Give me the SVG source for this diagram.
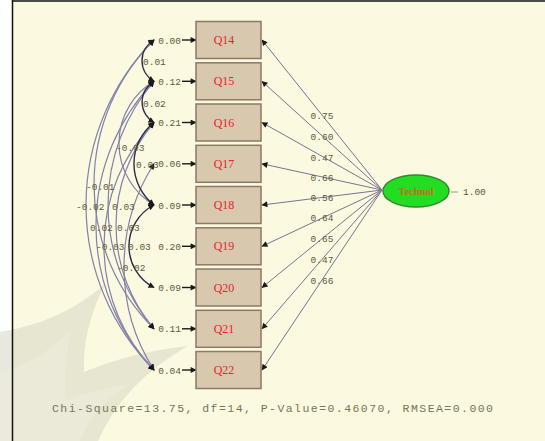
<svg xmlns="http://www.w3.org/2000/svg" width="545" height="441" viewBox="0 0 545 441">
  <defs>
    <marker id="arr" viewBox="0 0 10 10" refX="9" refY="5" markerWidth="7" markerHeight="6" markerUnits="userSpaceOnUse" orient="auto-start-reverse">
      <path d="M0,0 L10,5 L0,10 Z" fill="#1a1a1a"/>
    </marker>
    <style>
      .box { fill: #d7c8ae; stroke: #8a7a66; stroke-width: 1.5; }
      .blab { font-family: "Liberation Serif", serif; font-size: 12px; fill: #e8252a; text-anchor: middle; }
      .num { font-family: "Liberation Mono", monospace; font-size: 9.5px; fill: #5c5c40; }
      .path { stroke: #7a7492; stroke-width: 1; fill: none; marker-end: url(#arr); }
      .err { stroke: #1a1a1a; stroke-width: 1.4; fill: none; marker-end: url(#arr); }
      .cov { stroke: #8380aa; stroke-width: 1.2; fill: none; marker-start: url(#arr); marker-end: url(#arr); }
      .covd { stroke: #2e2c4a; stroke-width: 1.4; fill: none; marker-start: url(#arr); marker-end: url(#arr); }
    </style>
  </defs>

  <!-- page and frame -->
  <rect x="0" y="0" width="545" height="441" fill="#ffffff"/>
  <rect x="12" y="1" width="533" height="440" fill="#fbf9df"/>
  <!-- faint background emblem -->
  <path d="M0,332 Q62,322 105,284 Q82,330 84,372 Q132,352 188,346 Q124,382 98,441 L0,441 Z" fill="#d9d8c8" opacity="0.6"/>
  <path d="M0,372 Q40,362 70,330 Q64,370 66,400 Q100,388 130,384 Q92,408 80,441 L0,441 Z" fill="#ecebdc" opacity="0.7"/>
  <line x1="12.5" y1="0" x2="12.5" y2="441" stroke="#111" stroke-width="1.5"/>
  <line x1="12" y1="1" x2="545" y2="1" stroke="#111" stroke-width="1.5"/>

  <!-- connectors -->
  <g id="connectors">
    <!-- loadings from the latent variable -->
    <path class="path" d="M382,190 L262,40"/>
    <path class="path" d="M382,190 L262,81.3"/>
    <path class="path" d="M382,190 L262,122.5"/>
    <path class="path" d="M382,190 L262,163.8"/>
    <path class="path" d="M382,190 L262,205"/>
    <path class="path" d="M382,190 L262,246.3"/>
    <path class="path" d="M382,190 L262,287.5"/>
    <path class="path" d="M382,190 L262,328.8"/>
    <path class="path" d="M382,190 L262,370"/>
    <g class="num" text-anchor="middle">
      <text x="322" y="119">0.75</text>
      <text x="322" y="140">0.60</text>
      <text x="322" y="161">0.47</text>
      <text x="322" y="181">0.66</text>
      <text x="322" y="201">0.56</text>
      <text x="322" y="221">0.64</text>
      <text x="322" y="242">0.65</text>
      <text x="322" y="263">0.47</text>
      <text x="322" y="284">0.66</text>
    </g>

    <!-- error covariances -->
    <path class="cov" d="M154,40 A234.2,234.2 0 0 0 154,370"/>
    <path class="cov" d="M154,40 A203.8,203.8 0 0 0 154,328.8"/>
    <path class="cov" d="M154,81.3 A208.6,208.6 0 0 0 154,370"/>
    <path class="cov" d="M154,81.3 A189.5,189.5 0 0 0 154,328.8"/>
    <path class="cov" d="M154,122.5 A178.1,178.1 0 0 0 154,370"/>
    <path class="cov" d="M154,122.5 A159,159 0 0 0 154,328.8"/>
    <path class="cov" d="M154,163.8 A192.2,192.2 0 0 0 154,370"/>
    <path class="cov" d="M154,81.3 A72.1,72.1 0 0 0 154,205"/>
    <path class="covd" d="M154,40 A23.8,23.8 0 0 0 154,81.3"/>
    <path class="covd" d="M154,81.3 A23.8,23.8 0 0 0 154,122.5"/>
    <path class="covd" d="M154,122.5 A52.5,52.5 0 0 0 154,205"/>
    <path class="covd" d="M154,205 A46.5,46.5 0 0 0 154,287.5"/>
    <g class="num">
      <text x="143" y="65">0.01</text>
      <text x="143" y="107">0.02</text>
      <text x="116" y="151">-0.03</text>
      <text x="136" y="168">0.03</text>
      <text x="86" y="190">-0.01</text>
      <text x="76" y="210">-0.02</text>
      <text x="112" y="210">0.03</text>
      <text x="90" y="231">0.02</text>
      <text x="117" y="231">0.03</text>
      <text x="96" y="250">-0.03</text>
      <text x="128" y="250">0.03</text>
      <text x="117" y="271">-0.02</text>
    </g>

    <!-- error variances -->
    <path class="err" d="M182,40 L196,40"/>
    <path class="err" d="M182,81.3 L196,81.3"/>
    <path class="err" d="M182,122.5 L196,122.5"/>
    <path class="err" d="M182,163.8 L196,163.8"/>
    <path class="err" d="M182,205 L196,205"/>
    <path class="err" d="M182,246.3 L196,246.3"/>
    <path class="err" d="M182,287.5 L196,287.5"/>
    <path class="err" d="M182,328.8 L196,328.8"/>
    <path class="err" d="M182,370 L196,370"/>
    <g class="num" text-anchor="end">
      <text x="181" y="43.5">0.00</text>
      <text x="181" y="84.8">0.12</text>
      <text x="181" y="126">0.21</text>
      <text x="181" y="167.3">0.06</text>
      <text x="181" y="208.5">0.09</text>
      <text x="181" y="249.8">0.20</text>
      <text x="181" y="291">0.09</text>
      <text x="181" y="332.3">0.11</text>
      <text x="181" y="373.5">0.04</text>
    </g>
    <line x1="451" y1="192" x2="458" y2="192" stroke="#9a9a88" stroke-width="1"/>
  </g>

  <!-- observed indicators -->
  <g id="Q14"><rect class="box" x="196" y="21.5" width="65" height="37"/><text class="blab" x="224" y="44">Q14</text></g>
  <g id="Q15"><rect class="box" x="196" y="62.8" width="65" height="37"/><text class="blab" x="224" y="85.3">Q15</text></g>
  <g id="Q16"><rect class="box" x="196" y="104" width="65" height="37"/><text class="blab" x="224" y="126.5">Q16</text></g>
  <g id="Q17"><rect class="box" x="196" y="145.3" width="65" height="37"/><text class="blab" x="224" y="167.8">Q17</text></g>
  <g id="Q18"><rect class="box" x="196" y="186.5" width="65" height="37"/><text class="blab" x="224" y="209">Q18</text></g>
  <g id="Q19"><rect class="box" x="196" y="227.8" width="65" height="37"/><text class="blab" x="224" y="250.3">Q19</text></g>
  <g id="Q20"><rect class="box" x="196" y="269" width="65" height="37"/><text class="blab" x="224" y="291.5">Q20</text></g>
  <g id="Q21"><rect class="box" x="196" y="310.3" width="65" height="37"/><text class="blab" x="224" y="332.8">Q21</text></g>
  <g id="Q22"><rect class="box" x="196" y="351.5" width="65" height="37"/><text class="blab" x="224" y="374">Q22</text></g>

  <!-- latent variable -->
  <g id="latent">
    <ellipse cx="416" cy="191" rx="33" ry="16" fill="#22dd22" stroke="#2f8a2f" stroke-width="1.5"/>
    <text x="416" y="195" font-family="Liberation Serif, serif" font-size="10.5" font-weight="bold" fill="#b8761e" text-anchor="middle">Technol</text>
    <text class="num" x="463" y="195">1.00</text>
  </g>

  <!-- fit statistics -->
  <text x="52" y="412" font-family="Liberation Mono, monospace" font-size="11.5" fill="#76765c" textLength="441" lengthAdjust="spacing">Chi-Square=13.75, df=14, P-Value=0.46070, RMSEA=0.000</text>
</svg>
